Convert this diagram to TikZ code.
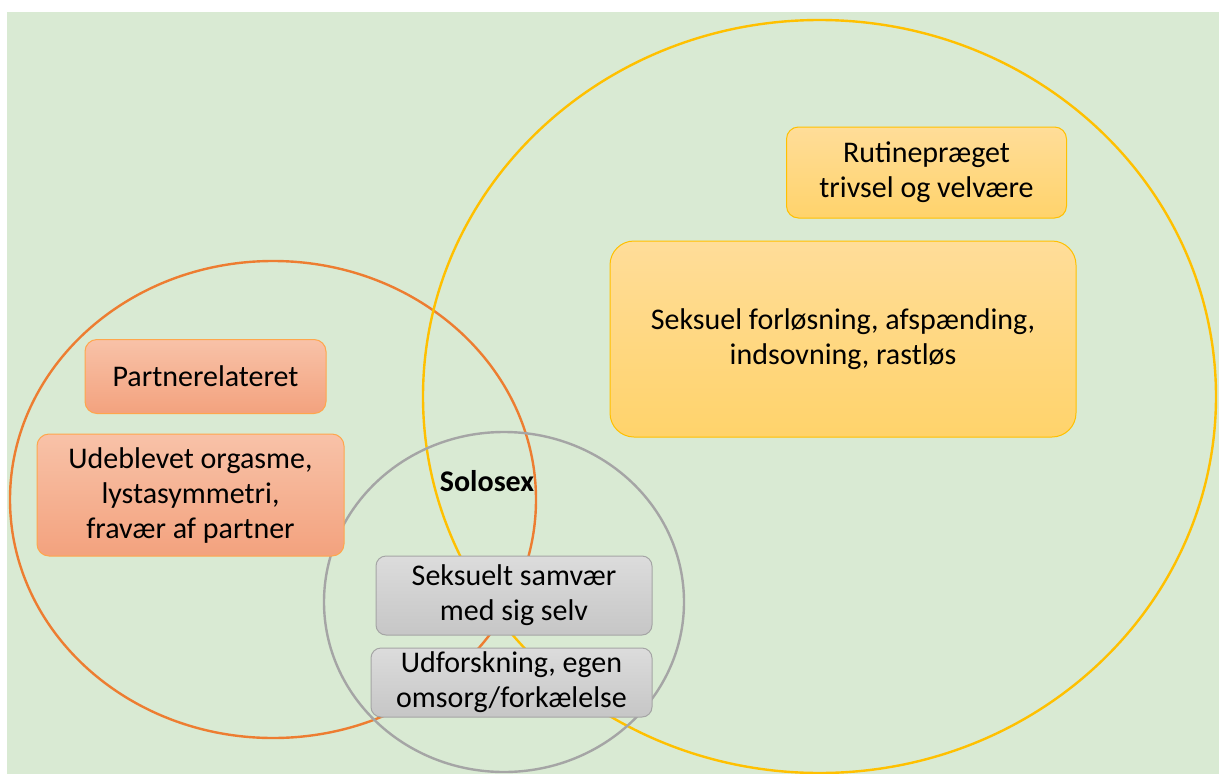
\documentclass[tikz,border=0pt]{standalone}
\usepackage{fontspec}
\setmainfont{Carlito}
\begin{document}
\begin{tikzpicture}[x=1pt,y=-1pt,
  txt/.style={font=\fontsize{30}{35}\selectfont, align=center, text=black, inner sep=0pt},
  obox/.style={txt, draw=orange!70!white, line width=1pt, top color=bgOtop, bottom color=bgObot, rounded corners=12pt},
  ybox/.style={txt, draw=ringY, line width=1pt, top color=bgYtop, bottom color=bgYbot, rounded corners=12pt},
  gbox/.style={txt, draw=ringG, line width=1pt, top color=bgGtop, bottom color=bgGbot, rounded corners=10pt},
  ring/.style={line width=2.4pt}
]
\definecolor{bg}{HTML}{D9EAD3}
\definecolor{ringO}{HTML}{ED7D31}
\definecolor{ringY}{HTML}{FFC000}
\definecolor{ringG}{HTML}{A5A5A5}
\definecolor{bgOtop}{HTML}{F8C2A8}
\definecolor{bgObot}{HTML}{F3A27E}
\definecolor{bgYtop}{HTML}{FFDD99}
\definecolor{bgYbot}{HTML}{FFD36B}
\definecolor{bgGtop}{HTML}{DCDCDC}
\definecolor{bgGbot}{HTML}{C6C6C6}
\useasboundingbox (0,0) rectangle (1219,774);
\fill[bg] (7,12) rectangle (1219,774);
% rings
\draw[ring, ringO] (273,499.5) ellipse [x radius=263, y radius=238.5];
\draw[ring, ringY] (819.5,396.5) ellipse [x radius=396.5, y radius=376.5];
\draw[ring, ringG] (504,602) ellipse [x radius=180, y radius=170];
% boxes
\node[ybox, minimum width=280pt, minimum height=91pt] (rutine) at (926.5,172.5) {Rutinepræget\\trivsel og velvære};
\node[ybox, rounded corners=24pt, minimum width=466pt, minimum height=196pt] (seksuel) at (843,339) {Seksuel forløsning, afspænding,\\indsovning, rastløs};
\node[obox, minimum width=241pt, minimum height=74pt] (partner) at (205.5,376.5) {Partnerelateret};
\node[obox, minimum width=307pt, minimum height=122pt] (udeblevet) at (190.5,495) {Udeblevet orgasme,\\lystasymmetri,\\fravær af partner};
\node[txt, font=\fontsize{30}{35}\selectfont\bfseries] (solosex) at (487,481) {Solosex};
\node[gbox, minimum width=276pt, minimum height=79pt] (samvaer) at (514,595.5) {Seksuelt samvær\\med sig selv};
\node[gbox, minimum width=281pt, minimum height=69pt] (udforsk) at (511.5,682.5) {Udforskning, egen\\omsorg/forkælelse};
\end{tikzpicture}
\end{document}
